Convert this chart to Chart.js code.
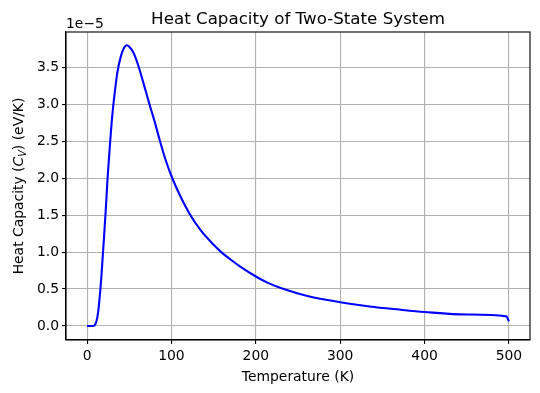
<!DOCTYPE html>
<html>
<head>
<meta charset="utf-8">
<script src="https://cdn.jsdelivr.net/npm/chart.js@4.4.0/dist/chart.umd.min.js"></script>
<style>
  body { margin: 0; background: #fff; }
</style>
</head>
<body>
<canvas id="cv" width="540" height="393"></canvas>
<script>
// temperature (K)
const temps = [0, 4, 8, 9, 10, 11, 12, 13, 14, 15, 16, 17, 18, 19, 20, 21, 22, 23, 24, 25,
  27, 29, 31, 33, 36, 40, 44, 47, 50, 55, 60, 65, 70, 75, 80, 86, 93, 101, 110, 122,
  135, 150, 160, 170, 182, 200, 215, 233, 260, 300, 335, 370, 400, 450, 497, 500];
// heat capacity, read in units of 1e-5 eV/K
const heatCap = [0, 0, 0.003, 0.01, 0.03, 0.06, 0.11, 0.18, 0.28, 0.40, 0.53, 0.68, 0.85, 1.02, 1.19, 1.37, 1.55, 1.74, 1.95, 2.12,
  2.44, 2.74, 2.98, 3.18, 3.44, 3.65, 3.77, 3.80, 3.78, 3.70, 3.55, 3.36, 3.16, 2.96, 2.77, 2.52, 2.25, 2.00, 1.77, 1.51,
  1.29, 1.10, 0.99, 0.90, 0.80, 0.67, 0.58, 0.50, 0.41, 0.322, 0.264, 0.222, 0.19, 0.155, 0.13, 0.062];

const xTicks = [0, 100, 200, 300, 400, 500];
const yTicks = [0, 0.5, 1.0, 1.5, 2.0, 2.5, 3.0, 3.5];

const FONT = '"DejaVu Sans", sans-serif';

let pts = [];
for (let i = 0; i < temps.length; i++) {
  pts.push({x: temps[i], y: heatCap[i]});
}

// title, y label with subscript, offset text and the box round the plot
const extras = {
  id: 'extras',
  afterDraw(chart) {
    const {ctx, chartArea: a} = chart;
    ctx.save();
    ctx.strokeStyle = '#000';
    ctx.lineWidth = 1.1;
    ctx.strokeRect(a.left, a.top, a.right - a.left, a.bottom - a.top);

    ctx.fillStyle = '#000';
    ctx.textBaseline = 'alphabetic';
    ctx.font = '16.7px ' + FONT;
    ctx.textAlign = 'center';
    ctx.fillText('Heat Capacity of Two-State System', (a.left + a.right) / 2, a.top - 8);

    ctx.font = '13.9px ' + FONT;
    ctx.textAlign = 'left';
    ctx.fillText('1e\u22125', a.left, a.top - 4);

    const parts = [
      {t: 'Heat Capacity (', f: '13.9px ' + FONT, dy: 0},
      {t: 'C', f: 'italic 13.9px ' + FONT, dy: 0},
      {t: 'V', f: 'italic 9.7px ' + FONT, dy: 2.6},
      {t: ') (eV/K)', f: '13.9px ' + FONT, dy: 0}
    ];
    let w = 0;
    parts.forEach(p => { ctx.font = p.f; p.w = ctx.measureText(p.t).width; w += p.w; });
    ctx.translate(23, (a.top + a.bottom) / 2);
    ctx.rotate(-Math.PI / 2);
    let x = -w / 2;
    parts.forEach(p => { ctx.font = p.f; ctx.fillText(p.t, x, p.dy); x += p.w; });
    ctx.restore();
  }
};

new Chart(document.getElementById('cv'), {
  type: 'line',
  data: {
    datasets: [{
      data: pts,
      borderColor: '#0000ff',
      borderWidth: 2.1,
      pointRadius: 0,
      fill: false,
      cubicInterpolationMode: 'monotone'
    }]
  },
  options: {
    responsive: false,
    animation: false,
    devicePixelRatio: 1,
    layout: { padding: { left: 0, right: 10, top: 32, bottom: 0 } },
    plugins: { legend: { display: false }, tooltip: { enabled: false }, title: { display: false } },
    scales: {
      x: {
        type: 'linear',
        min: -25,
        max: 525,
        afterBuildTicks: s => { s.ticks = xTicks.map(v => ({value: v})); },
        afterFit: s => { s.height = 53; },
        grid: { color: '#b0b0b0', lineWidth: 1.1, tickColor: '#000', tickLength: 4 },
        border: { color: '#000', width: 1.1 },
        ticks: { color: '#000', font: { family: FONT, size: 13.9 }, padding: 4, maxRotation: 0, autoSkip: false,
          callback: v => String(v) },
        title: { display: true, text: 'Temperature (K)', color: '#000',
          font: { family: FONT, size: 13.9 }, padding: { top: 0, bottom: 7 } }
      },
      y: {
        type: 'linear',
        min: -0.19,
        max: 3.98,
        afterBuildTicks: s => { s.ticks = yTicks.map(v => ({value: v})); },
        afterFit: s => { s.width = 66; },
        grid: { color: '#b0b0b0', lineWidth: 1.1, tickColor: '#000', tickLength: 4 },
        border: { color: '#000', width: 1.1 },
        ticks: { color: '#000', font: { family: FONT, size: 13.9 }, padding: 3, autoSkip: false,
          callback: v => v.toFixed(1) }
      }
    }
  },
  plugins: [extras]
});
</script>
</body>
</html>
